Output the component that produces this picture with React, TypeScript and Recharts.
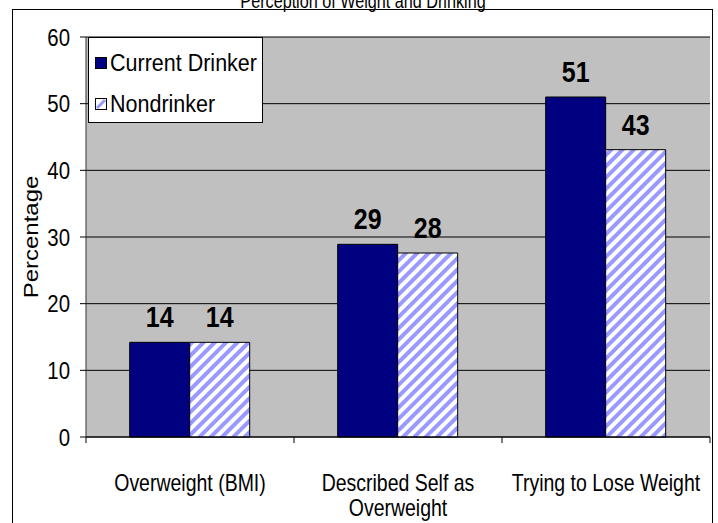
import React from 'react';
import { BarChart, Bar, XAxis, YAxis, CartesianGrid, Legend, LabelList, Label } from 'recharts';

const categories = ['Overweight (BMI)', 'Described Self as\nOverweight', 'Trying to Lose Weight'];
const currentDrinker = [14.2, 28.9, 51];
const nondrinker = [14.2, 27.6, 43.1];
const yTicks = [0, 10, 20, 30, 40, 50, 60];

const data = categories.map((name, i) => ({
    name,
    current: currentDrinker[i],
    non: nondrinker[i],
}));

const FONT = '"Liberation Sans", Arial, sans-serif';
const W = 718;
const H = 523;
const Y_AXIS_W = 86;
const RIGHT = 8;
const PLOT_W = W - Y_AXIS_W - RIGHT;
// the source picture is stretched vertically, text included
const STRETCH = 1.2;

const CategoryTick = ({ x, y, payload, index }: any) => {
    const half = PLOT_W / categories.length / 2;
    const lines = String(payload.value).split('\n');
    return (
        <g>
            <line x1={x - half} x2={x - half} y1={y - 6} y2={y} stroke="#000" />
            {index === categories.length - 1 && (
                <line x1={x + half} x2={x + half} y1={y - 6} y2={y} stroke="#000" />
            )}
            {lines.map((l, i) => (
                <text
                    key={i}
                    transform={`translate(${x} ${y + 48 + i * 25}) scale(1 ${STRETCH})`}
                    textAnchor="middle"
                    fontSize={19.5}
                    fontFamily={FONT}
                    fill="#000"
                >
                    {l}
                </text>
            ))}
        </g>
    );
};

const ValueTick = ({ x, y, payload }: any) => (
    <text
        transform={`translate(${x} ${y + 8.6}) scale(1 ${STRETCH})`}
        textAnchor="end"
        fontSize={20.4}
        fontFamily={FONT}
        fill="#000"
    >
        {payload.value}
    </text>
);

const BarValue = ({ x, y, width, value }: any) => (
    <text
        transform={`translate(${x + width / 2} ${y - 15}) scale(1 ${STRETCH})`}
        textAnchor="middle"
        fontSize={25}
        fontWeight="bold"
        fontFamily={FONT}
        fill="#000"
    >
        {Math.round(value)}
    </text>
);

const LegendBox = () => (
    <div style={{ position: 'relative', width: 175, height: 86, background: '#fff', border: '1px solid #000', boxSizing: 'border-box', fontFamily: FONT, fontSize: 21.5, color: '#000' }}>
        <div style={{ position: 'absolute', left: 6, top: 13, display: 'flex', alignItems: 'center', lineHeight: '24px' }}>
            <span style={{ width: 12, height: 12, background: '#000080', border: '1px solid #000', boxSizing: 'border-box', marginRight: 3 }} />
            <span style={{ display: 'inline-block', transform: 'scaleY(1.1)' }}>Current Drinker</span>
        </div>
        <div style={{ position: 'absolute', left: 6, top: 54, display: 'flex', alignItems: 'center', lineHeight: '24px' }}>
            <svg width={12} height={12} style={{ marginRight: 3 }}>
                <rect x={0.5} y={0.5} width={11} height={11} fill="#fff" stroke="#000" />
                <line x1={2} y1={10} x2={10} y2={2} stroke="#9999FF" strokeWidth={3} />
            </svg>
            <span style={{ display: 'inline-block', transform: 'scaleY(1.1)' }}>Nondrinker</span>
        </div>
    </div>
);

export default function App() {
    return (
        <div style={{ position: 'absolute', left: 0, top: 0, width: W, height: H, background: '#fff', overflow: 'hidden' }}>
            <svg width={W} height={20} style={{ position: 'absolute', left: 0, top: 0 }}>
                <text
                    transform={`translate(363 8) scale(1 ${STRETCH})`}
                    textAnchor="middle"
                    fontSize={16.2}
                    fontFamily={FONT}
                    fill="#000"
                >
                    Perception of Weight and Drinking
                </text>
            </svg>
            <div style={{ position: 'absolute', left: 12, top: 9, width: 701, height: 530, border: '1px solid #000', boxSizing: 'border-box', background: 'transparent' }} />
            <BarChart
                width={W}
                height={H}
                data={data}
                margin={{ top: 37, right: RIGHT, bottom: 0, left: 0 }}
                barCategoryGap="21%"
                barGap={0}
                style={{ position: 'absolute', left: 0, top: 0 }}
            >
                <defs>
                    <pattern id="hatch" patternUnits="userSpaceOnUse" width={8} height={8} patternTransform="rotate(45)">
                        <rect width={8} height={8} fill="#fff" />
                        <rect width={4} height={8} fill="#9999FF" />
                    </pattern>
                </defs>
                <CartesianGrid fill="#C0C0C0" stroke="#000" vertical={false} />
                <XAxis
                    dataKey="name"
                    height={86}
                    axisLine={{ stroke: '#000' }}
                    tickLine={false}
                    tickSize={6}
                    tickMargin={0}
                    interval={0}
                    tick={<CategoryTick />}
                />
                <YAxis
                    width={Y_AXIS_W}
                    domain={[0, 60]}
                    ticks={yTicks}
                    interval={0}
                    axisLine={{ stroke: '#333' }}
                    tickLine={{ stroke: '#000' }}
                    tickSize={6}
                    tickMargin={10}
                    tick={<ValueTick />}
                >
                    <Label
                        content={({ viewBox }: any) => (
                            <text
                                transform={`translate(${viewBox.x + 31} ${viewBox.y + viewBox.height / 2}) scale(1 ${STRETCH}) rotate(-90)`}
                                textAnchor="middle"
                                dominantBaseline="central"
                                fontSize={20}
                                fontFamily={FONT}
                                fill="#000"
                            >
                                Percentage
                            </text>
                        )}
                    />
                </YAxis>
                <YAxis
                    yAxisId="frame"
                    orientation="right"
                    width={0}
                    domain={[0, 60]}
                    tick={false}
                    tickLine={false}
                    axisLine={{ stroke: '#808080' }}
                />
                <Legend
                    content={<LegendBox />}
                    layout="vertical"
                    align="center"
                    verticalAlign="middle"
                    wrapperStyle={{ position: 'absolute', left: 88, top: 37, width: 175, height: 86 }}
                />
                <Bar dataKey="current" name="Current Drinker" fill="#000080" stroke="#000" strokeWidth={1} isAnimationActive={false}>
                    <LabelList dataKey="current" content={<BarValue />} />
                </Bar>
                <Bar dataKey="non" name="Nondrinker" fill="url(#hatch)" stroke="#000" strokeWidth={1} isAnimationActive={false}>
                    <LabelList dataKey="non" content={<BarValue />} />
                </Bar>
            </BarChart>
        </div>
    );
}
